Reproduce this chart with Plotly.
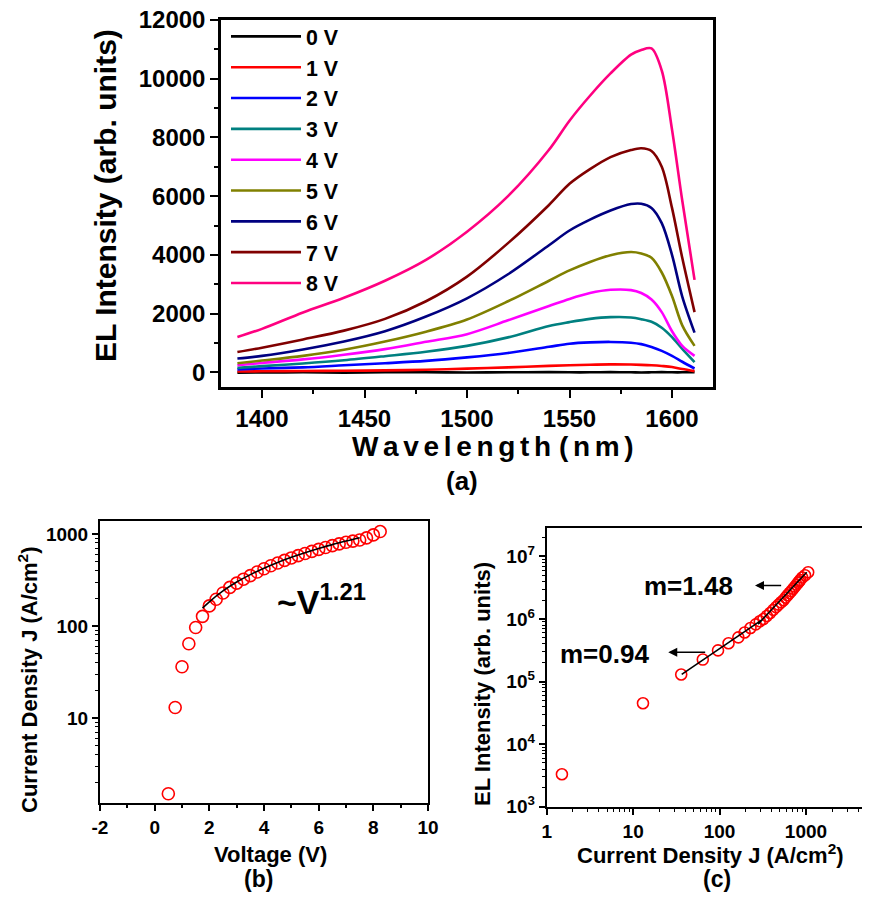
import plotly.graph_objects as go

FONT = "Liberation Sans, Arial, sans-serif"
PAGE_W, PAGE_H = 870, 901
OFF = 8  # default body margin of the page around the figure
W, H = PAGE_W - 2 * OFF, PAGE_H - 2 * OFF

# ---- (a) EL spectra ----
wavelength = [1388, 1400, 1420, 1440, 1460, 1480, 1500, 1520, 1540, 1550,
              1560, 1570, 1580, 1585, 1590, 1595, 1600, 1605, 1611]
el_0v = [-10, -5, 0, -10, 5, 0, -5, 0, 5, 0, 0, 5, 0, -5, 0, 5, 0, 0, 5]
el_1v = [30, 35, 45, 55, 65, 90, 125, 170, 220, 240, 260, 270, 265, 255, 240, 215, 180, 110, 40]
el_2v = [100, 130, 170, 240, 310, 390, 510, 660, 870, 975, 1020, 1035, 1010, 960, 860, 730, 560, 360, 130]
el_3v = [150, 210, 300, 410, 550, 700, 900, 1190, 1580, 1710, 1820, 1880, 1870, 1810, 1720, 1520, 1200, 800, 350]
el_4v = [240, 320, 440, 600, 790, 1040, 1300, 1770, 2260, 2500, 2700, 2810, 2800, 2700, 2480, 2050, 1400, 900, 560]
el_5v = [310, 400, 560, 770, 1050, 1385, 1800, 2420, 3120, 3470, 3760, 3990, 4100, 4050, 3900, 3400, 2600, 1600, 900]
el_6v = [470, 560, 780, 1050, 1400, 1900, 2520, 3340, 4330, 4830, 5200, 5510, 5730, 5740, 5600, 5080, 4000, 2580, 1350]
el_7v = [690, 840, 1120, 1420, 1820, 2420, 3260, 4400, 5700, 6420, 6920, 7330, 7570, 7630, 7540, 7000, 5600, 3900, 2050]
el_8v = [1200, 1480, 2040, 2540, 3120, 3830, 4790, 6000, 7580, 8570, 9420, 10180, 10820, 10980, 11030, 10280, 8270, 5850, 3150]

series_names = ["0 V", "1 V", "2 V", "3 V", "4 V", "5 V", "6 V", "7 V", "8 V"]
series_vals = [el_0v, el_1v, el_2v, el_3v, el_4v, el_5v, el_6v, el_7v, el_8v]
series_colors = ["#000000", "#FF0000", "#0000FF", "#008080", "#FF00FF",
                 "#808000", "#000080", "#800000", "#FF0080"]
el_ticks = [0, 2000, 4000, 6000, 8000, 10000, 12000]

# ---- (b) J-V ----
voltage = [0.5, 0.75, 1.0, 1.25, 1.5, 1.75, 2.0, 2.25, 2.5, 2.75, 3.0, 3.25, 3.5, 3.75,
           4.0, 4.25, 4.5, 4.75, 5.0, 5.25, 5.5, 5.75, 6.0, 6.25, 6.5, 6.75, 7.0, 7.25,
           7.5, 7.75, 8.0, 8.25]
current_density = [1.5, 13, 36, 64, 96, 127, 165, 195, 228, 262, 292, 322, 352, 385,
                   418, 450, 482, 515, 548, 580, 612, 645, 678, 712, 745, 778, 810, 835,
                   858, 905, 975, 1060]
fit_v = [1.75, 2.0, 2.5, 3.0, 3.5, 4.0, 4.5, 5.0, 5.5, 6.0, 6.5, 7.0, 7.5]
fit_j = [156, 183, 240, 300, 361, 424, 489, 556, 624, 693, 764, 835, 908]
volt_ticks = [-2, 0, 2, 4, 6, 8, 10]
j_ticks = [10, 100, 1000]

# ---- (c) L-J ----
el_integrated = [3.3e3, 4.5e4, 1.3e5, 2.25e5, 3.15e5, 4.1e5, 5.1e5, 6.1e5, 7.2e5, 8.2e5,
                 9.2e5, 1.0e6, 1.12e6, 1.25e6, 1.4e6, 1.55e6, 1.7e6, 1.85e6, 2.0e6,
                 2.2e6, 2.4e6, 2.6e6, 2.8e6, 3.05e6, 3.3e6, 3.55e6, 3.8e6, 4.0e6,
                 4.2e6, 4.6e6, 5.0e6, 5.6e6]
fit1_j = [36.5, 306]
fit1_el = [1.3e5, 9.6e5]
fit2_j = [279, 1020]
fit2_el = [8.3e5, 5.6e6]
jc_ticks = [1, 10, 100, 1000]
elc_ticks = [1e3, 1e4, 1e5, 1e6, 1e7]
elc_text = ["10<sup>3</sup>", "10<sup>4</sup>", "10<sup>5</sup>", "10<sup>6</sup>", "10<sup>7</sup>"]


def px(x):
    return (x - OFF) / W


def py(y):
    return 1 - (y - OFF) / H


fig = go.Figure()

for name, vals, col in zip(series_names, series_vals, series_colors):
    fig.add_trace(go.Scatter(x=wavelength, y=vals, mode="lines", name=name,
                             line=dict(color=col, width=2.6, shape="spline", smoothing=0.9),
                             xaxis="x", yaxis="y"))

circle = dict(symbol="circle-open", size=12, color="#FF0000", line=dict(width=1.6, color="#FF0000"))

fig.add_trace(go.Scatter(x=voltage, y=current_density, mode="markers", marker=circle,
                         showlegend=False, xaxis="x2", yaxis="y2"))
fig.add_trace(go.Scatter(x=fit_v, y=fit_j, mode="lines", line=dict(color="black", width=1.6, shape="spline"),
                         showlegend=False, xaxis="x2", yaxis="y2"))

fig.add_trace(go.Scatter(x=current_density, y=el_integrated, mode="markers",
                         marker=dict(circle, size=11), showlegend=False, xaxis="x3", yaxis="y3"))
fig.add_trace(go.Scatter(x=fit1_j, y=fit1_el, mode="lines", line=dict(color="black", width=1.6),
                         showlegend=False, xaxis="x3", yaxis="y3"))
fig.add_trace(go.Scatter(x=fit2_j, y=fit2_el, mode="lines", line=dict(color="black", width=1.6),
                         showlegend=False, xaxis="x3", yaxis="y3"))

ax_common = dict(showgrid=False, zeroline=False, showline=True, linecolor="black",
                 mirror=True, ticks="outside", tickcolor="black", automargin=False,
                 ticklabeloverflow="allow")
small_tick = dict(size=19, family=FONT, weight="bold")
log_minor = dict(ticks="outside", dtick="D1", ticklen=3, tickwidth=1.2, tickcolor="black")

fig.update_layout(
    width=W, height=H, paper_bgcolor="white", plot_bgcolor="white",
    margin=dict(l=0, r=0, t=0, b=0),
    font=dict(family=FONT, color="black", weight="bold"),
    xaxis=dict(ax_common, domain=[px(221), px(713)], anchor="y", range=[1380, 1620],
               dtick=50, tick0=1400, ticklen=8, tickwidth=2, linewidth=2.5, tickformat="d",
               tickfont=dict(size=24, family=FONT, weight="bold"),
               minor=dict(ticks="outside", dtick=25, ticklen=4, tickwidth=2, tickcolor="black")),
    yaxis=dict(ax_common, domain=[py(387), py(20)], anchor="x", range=[-500, 12000],
               tickvals=el_ticks, ticktext=[str(v) for v in el_ticks],
               ticklen=8, tickwidth=2, linewidth=2.5,
               tickfont=dict(size=24, family=FONT, weight="bold"),
               minor=dict(ticks="outside", dtick=1000, ticklen=4, tickwidth=2, tickcolor="black")),
    xaxis2=dict(ax_common, domain=[px(100), px(428)], anchor="y2", range=[-2, 10],
                tickvals=volt_ticks, ticktext=[str(v) for v in volt_ticks],
                ticklen=6, tickwidth=1.5, linewidth=2, tickfont=small_tick,
                minor=dict(ticks="outside", dtick=1, ticklen=3, tickwidth=1.5, tickcolor="black")),
    yaxis2=dict(ax_common, domain=[py(803), py(521)], anchor="x2", type="log",
                range=[0.076, 3.14], tickvals=j_ticks, ticktext=[str(v) for v in j_ticks],
                ticklen=6, tickwidth=1.5, linewidth=2, tickfont=small_tick, minor=log_minor),
    yaxis4=dict(overlaying="y2", anchor="x2", side="right", type="log", range=[0.076, 3.14],
                showgrid=False, zeroline=False, showline=False, automargin=False,
                tickvals=j_ticks, showticklabels=False, ticks="inside", ticklen=6,
                tickwidth=1.5, tickcolor="black",
                minor=dict(ticks="inside", dtick="D1", ticklen=3, tickwidth=1.2, tickcolor="black")),
    xaxis3=dict(ax_common, domain=[px(546.7), 1.0], anchor="y3", type="log",
                range=[0, 3 + (PAGE_W - OFF - 806) / 86.4], tickvals=jc_ticks,
                ticktext=[str(v) for v in jc_ticks],
                ticklen=6, tickwidth=1.5, linewidth=2, tickfont=small_tick, minor=log_minor),
    yaxis3=dict(ax_common, domain=[py(806.7), py(527.7)], anchor="x3", type="log", mirror=False,
                range=[3, 7.46], tickvals=elc_ticks, ticktext=elc_text,
                ticklen=6, tickwidth=1.5, linewidth=2, tickfont=small_tick, minor=log_minor),
    yaxis5=dict(overlaying="y3", anchor="x3", side="right", type="log", range=[3, 7.46],
                showgrid=False, zeroline=False, showline=False, automargin=False,
                tickvals=elc_ticks, showticklabels=False, ticks="inside", ticklen=6,
                tickwidth=1.5, tickcolor="black",
                minor=dict(ticks="inside", dtick="D1", ticklen=3, tickwidth=1.2, tickcolor="black")),
    legend=dict(x=px(226), y=py(16), xanchor="left", yanchor="top",
                bgcolor="rgba(0,0,0,0)", font=dict(size=21.4, family=FONT, weight="bold"),
                itemwidth=70, tracegroupgap=0),
)


def label(text, x, y, size, angle=0):
    fig.add_annotation(text=text, x=px(x), y=py(y), xref="paper", yref="paper",
                       showarrow=False, textangle=angle, xanchor="center", yanchor="middle",
                       font=dict(size=size, family=FONT, weight="bold", color="black"))


hs = "\u200a\u200a"
label(hs.join("Wavelength") + " " + hs.join("(nm)"), 493, 446, 28)
label("(a)", 462, 481, 26)
label("EL Intensity (arb. units)", 105, 196, 30, -90)
label("Current Density J (A/cm<sup>2</sup>)", 28, 680, 22, -90)
label("Voltage (V)", 270, 854, 22)
label("(b)", 258, 879, 23)
label("EL Intensity (arb. units)", 482, 684, 22, -90)
label("Current Density J (A/cm<sup>2</sup>)", 710, 854, 22)
label("(c)", 717, 879, 23)

# ~V^1.21 annotation in (b)
fig.add_annotation(text="~V<sup>1.21</sup>", x=6.1, y=2.29, xref="x2", yref="y2",
                   showarrow=False, font=dict(size=34, family=FONT, weight="bold", color="black"))

# slope labels in (c)
fig.add_annotation(text="m=1.48", x=1.646, y=6.53, xref="x3", yref="y3", showarrow=False,
                   font=dict(size=26, family=FONT, weight="bold", color="black"))
fig.add_annotation(text="m=0.94", x=0.674, y=5.443, xref="x3", yref="y3", showarrow=False,
                   font=dict(size=26, family=FONT, weight="bold", color="black"))
fig.add_annotation(x=2.41, y=6.536, ax=2.73, ay=6.536, xref="x3", yref="y3", axref="x3", ayref="y3",
                   text="", showarrow=True, arrowhead=2, arrowsize=1.2, arrowwidth=1.5, arrowcolor="black")
fig.add_annotation(x=1.406, y=5.47, ax=1.851, ay=5.47, xref="x3", yref="y3", axref="x3", ayref="y3",
                   text="", showarrow=True, arrowhead=2, arrowsize=1.2, arrowwidth=1.5, arrowcolor="black")

fig.write_html("out.html")
